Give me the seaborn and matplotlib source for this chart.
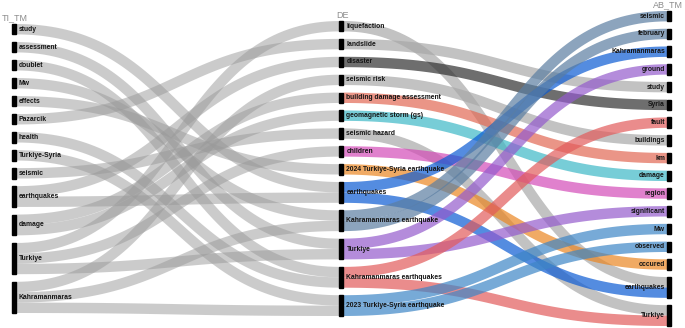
"""
Three-field plot: title terms -> descriptors -> abstract terms
"""

import numpy as np
import matplotlib.pyplot as plt
import seaborn as sns

sns.set_theme(style="white")
plt.rcParams["font.family"] = ["Liberation Sans", "DejaVu Sans"]

# ── Data ───────────────────────────────────────────────────────────────────────
TI_TM = ["study", "assessment", "doublet", "Mw", "effects", "Pazarcik", "health",
         "Turkiye-Syria", "seismic", "earthquakes", "damage", "Turkiye", "Kahramanmaras"]

DE = ["liquefaction", "landslide", "disaster", "seismic risk",
      "building damage assessment", "geomagnetic storm (gs)", "seismic hazard",
      "children", "2024 Turkiye-Syria earthquake", "earthquakes",
      "Kahramanmaras earthquake", "Turkiye", "Kahramanmaras earthquakes",
      "2023 Turkiye-Syria earthquake"]

AB_TM = ["seismic", "february", "Kahramanmaras", "ground", "study", "Syria", "fault",
         "buildings", "km", "damage", "region", "significant", "Mw", "observed",
         "occured", "earthquakes", "Turkiye"]

# colour of each DE node (links DE -> AB_TM take it)
DE_COLORS = ["#a8a8a8", "#a8a8a8", "#303030", "#a8a8a8", "#e26954", "#3eb8c6",
             "#a8a8a8", "#d44cb8", "#ea8622", "#0c5bd4", "#5b7ea2", "#945bcd",
             "#e25b5b", "#3e86c6"]

# TI_TM -> DE links
left_src = ["study", "assessment", "doublet", "Mw", "effects", "Pazarcik", "health",
            "Turkiye-Syria", "seismic", "earthquakes", "earthquakes", "damage", "damage",
            "Turkiye", "Turkiye", "Turkiye", "Kahramanmaras", "Kahramanmaras",
            "Kahramanmaras"]
left_dst = ["earthquakes", "Turkiye", "Kahramanmaras earthquakes",
            "Kahramanmaras earthquake", "2024 Turkiye-Syria earthquake", "landslide",
            "Kahramanmaras earthquakes", "2023 Turkiye-Syria earthquake", "seismic hazard",
            "disaster", "earthquakes", "building damage assessment",
            "geomagnetic storm (gs)", "liquefaction", "children", "Turkiye",
            "seismic risk", "Kahramanmaras earthquake", "2023 Turkiye-Syria earthquake"]
left_val = [1, 1, 1, 1, 1, 1, 1, 1, 1, 1, 1, 1, 1, 1, 1, 1, 1, 1, 1]

# DE -> AB_TM links
right_src = ["liquefaction", "landslide", "disaster", "seismic risk",
             "building damage assessment", "geomagnetic storm (gs)", "seismic hazard",
             "children", "2024 Turkiye-Syria earthquake", "earthquakes", "earthquakes",
             "Kahramanmaras earthquake", "Kahramanmaras earthquake", "Turkiye", "Turkiye",
             "Kahramanmaras earthquakes", "Kahramanmaras earthquakes",
             "2023 Turkiye-Syria earthquake", "2023 Turkiye-Syria earthquake"]
right_dst = ["earthquakes", "study", "Syria", "buildings", "km", "damage", "Turkiye",
             "region", "occured", "Kahramanmaras", "earthquakes", "seismic", "february",
             "ground", "significant", "fault", "Turkiye", "Mw", "observed"]
right_val = [1, 1, 1, 1, 1, 1, 1, 1, 1, 1, 1, 1, 1, 1, 1, 1, 1, 1, 1]

# ── Layout (pixel space) ───────────────────────────────────────────────────────
W, H = 685, 328
UNIT = 10.4          # px per link value
BAR_W = 4


def node_totals(names, *pairs):
    tot = {n: 0 for n in names}
    for keys, vals in pairs:
        acc = {n: 0 for n in names}
        for k, v in zip(keys, vals):
            acc[k] += v
        for n in names:
            tot[n] = max(tot[n], acc[n])
    return tot


def layout(names, totals, top, bottom):
    heights = [totals[n] * UNIT for n in names]
    gap = (bottom - top - sum(heights)) / (len(names) - 1)
    pos, y = {}, top
    for n, h in zip(names, heights):
        pos[n] = (y, h)
        y += h + gap
    return pos


tot_l = node_totals(TI_TM, (left_src, left_val))
tot_m = node_totals(DE, (left_dst, left_val), (right_src, right_val))
tot_r = node_totals(AB_TM, (right_dst, right_val))

pos_l = layout(TI_TM, tot_l, 24, 313)
pos_m = layout(DE, tot_m, 21, 316)
pos_r = layout(AB_TM, tot_r, 11, 326)

X_L, X_M, X_R = 12, 339.5, 667


def link_offsets(src, dst, vals, src_order, dst_order, pos_s, pos_d):
    """Stack links inside nodes: outgoing by target order, incoming by source order."""
    n = len(src)
    ys, yd = [0.0] * n, [0.0] * n
    for node in pos_s:
        idx = sorted([i for i in range(n) if src[i] == node], key=lambda i: dst_order.index(dst[i]))
        y = pos_s[node][0]
        for i in idx:
            ys[i] = y + vals[i] * UNIT / 2
            y += vals[i] * UNIT
    for node in pos_d:
        idx = sorted([i for i in range(n) if dst[i] == node], key=lambda i: src_order.index(src[i]))
        y = pos_d[node][0]
        for i in idx:
            yd[i] = y + vals[i] * UNIT / 2
            y += vals[i] * UNIT
    return ys, yd


def draw_link(ax, x0, ya, x1, yb, width, color, alpha):
    s = np.linspace(0, 1, 80)
    xm = (x0 + x1) / 2
    x = (1 - s) ** 3 * x0 + 3 * (1 - s) ** 2 * s * xm + 3 * (1 - s) * s ** 2 * xm + s ** 3 * x1
    y = ya + (yb - ya) * (3 * s ** 2 - 2 * s ** 3)
    ax.plot(x, y, color=color, alpha=alpha, lw=width * 72 / 100,
            solid_capstyle="butt", zorder=1)


# ── Plot ───────────────────────────────────────────────────────────────────────
fig = plt.figure(figsize=(W / 100, H / 100), dpi=100)
ax = fig.add_axes([0, 0, 1, 1])
ax.set_xlim(0, W)
ax.set_ylim(H, 0)
ax.axis("off")

ys, yd = link_offsets(left_src, left_dst, left_val, TI_TM, DE, pos_l, pos_m)
for i in range(len(left_src)):
    draw_link(ax, X_L + BAR_W, ys[i], X_M, yd[i], left_val[i] * UNIT, "#999999", 0.5)

ys, yd = link_offsets(right_src, right_dst, right_val, DE, AB_TM, pos_m, pos_r)
for i in range(len(right_src)):
    c = DE_COLORS[DE.index(right_src[i])]
    draw_link(ax, X_M + BAR_W, ys[i], X_R, yd[i], right_val[i] * UNIT, c, 0.7)

label_kw = dict(fontsize=4.9, fontweight="bold", color="#151515", va="center", zorder=4)
for n in TI_TM:
    y, h = pos_l[n]
    ax.add_patch(plt.Rectangle((X_L, y), BAR_W, h, color="black", zorder=3))
    ax.text(X_L + BAR_W + 3, y + h / 2, n, ha="left", **label_kw)
for n in DE:
    y, h = pos_m[n]
    ax.add_patch(plt.Rectangle((X_M, y), BAR_W, h, color="black", zorder=3))
    ax.text(X_M + BAR_W + 3, y + h / 2, n, ha="left", **label_kw)
for n in AB_TM:
    y, h = pos_r[n]
    ax.add_patch(plt.Rectangle((X_R, y), BAR_W, h, color="black", zorder=3))
    ax.text(X_R - 2, y + h / 2, n, ha="right", **label_kw)

head_kw = dict(fontsize=6.5, color="#8c8c8c", va="center")
ax.text(2, 18, "TI_TM", ha="left", **head_kw)
ax.text(336, 15, "DE", ha="left", **head_kw)
ax.text(683, 4.5, "AB_TM", ha="right", **head_kw)

fig.savefig("out.png", dpi=100)
